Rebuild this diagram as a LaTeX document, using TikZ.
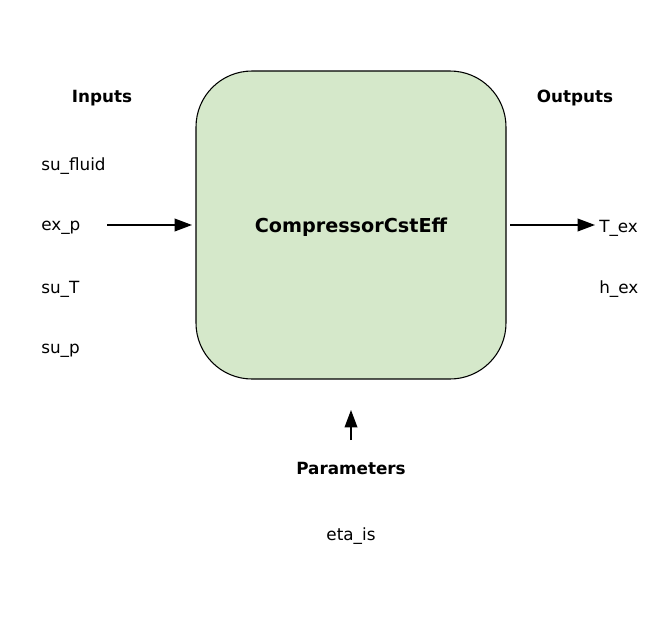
\documentclass[tikz,border=0pt]{standalone}
\usepackage{fontspec}
\setmainfont{DejaVu Sans}
\usetikzlibrary{arrows.meta}
\definecolor{boxgreen}{HTML}{D5E8CA}
\tikzset{
  lbl/.style={inner sep=0pt, font=\fontsize{12.6}{15}\selectfont},
  hdr/.style={inner sep=0pt, font=\fontsize{12.6}{15}\selectfont\bfseries},
  flow/.style={line width=1.1pt, -{Triangle[length=13pt, width=9.5pt]}},
}
\begin{document}
\begin{tikzpicture}[x=0.75pt, y=-0.75pt]
\useasboundingbox (0,0) rectangle (647,636);
\draw[fill=boxgreen, line width=0.8pt, rounded corners=42pt] (196,71) rectangle (506,379);
\node[inner sep=0pt, font=\fontsize{14.4}{17}\selectfont\bfseries] (title) at (351,227) {CompressorCstEff};
\node[hdr] (inputs) at (102,98.5) {Inputs};
\node[hdr] (outputs) at (575,98.5) {Outputs};
\node[hdr] (params) at (351,468.5) {Parameters};
\node[lbl, anchor=west] (i1) at (41,166) {su\_fluid};
\node[lbl, anchor=west] (i2) at (41,228) {ex\_p};
\node[lbl, anchor=west] (i3) at (41,289.5) {su\_T};
\node[lbl, anchor=west] (i4) at (41,351) {su\_p};
\node[lbl, anchor=west] (o1) at (599,228) {T\_ex};
\node[lbl, anchor=west] (o2) at (599,289) {h\_ex};
\node[lbl] (p1) at (351,536) {eta\_is};
\coordinate (ainS) at (107,225);
\coordinate (ainE) at (192,225);
\coordinate (aoutS) at (510,225);
\coordinate (aoutE) at (595,225);
\coordinate (aupS) at (351,440);
\coordinate (aupE) at (351,410);
\draw[flow] (ainS) -- (ainE);
\draw[flow] (aoutS) -- (aoutE);
\draw[flow] (aupS) -- (aupE);
\end{tikzpicture}
\end{document}
